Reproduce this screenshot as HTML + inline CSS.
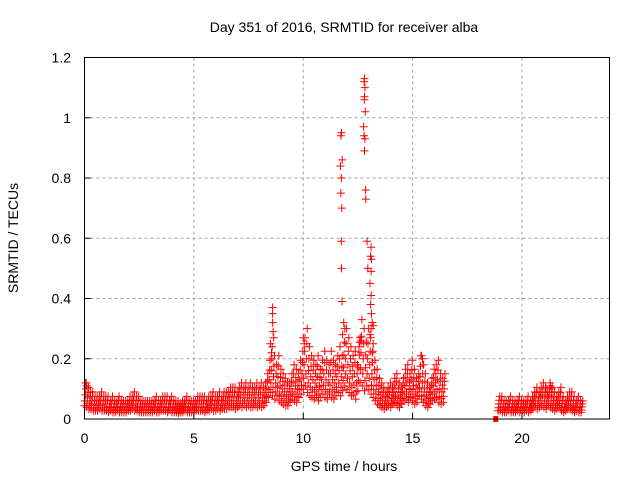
<!DOCTYPE html>
<html><head><meta charset="utf-8"><style>
body{margin:0;background:#fff}
svg{display:block;font-family:"Liberation Sans",sans-serif}
</style></head><body>
<svg id="chart" width="640" height="480">
<rect width="640" height="480" fill="#fff"/>
<text x="344" y="32" font-size="14" text-anchor="middle">Day 351 of 2016, SRMTID for receiver alba</text>
<text x="344" y="471" font-size="14" text-anchor="middle">GPS time / hours</text>
<text x="18" y="238" font-size="14" text-anchor="middle" transform="rotate(-90 18 238)">SRMTID / TECUs</text>
<g id="grid"></g>
<g id="marks"></g>
<rect x="84.5" y="57.5" width="525" height="361.5" fill="none" stroke="#000" stroke-width="1"/>
<g id="ticks"></g>
</svg>
<script>
const xTicks=[0,5,10,15,20];
const yTicks=[0,0.2,0.4,0.6,0.8,1,1.2];
const yTickLabels=["0","0.2","0.4","0.6","0.8","1","1.2"];
const seg1Start=0.0;
const seg1=[0.08,0.07,0.06,0.06,0.05,0.05,0.05,0.06,0.05,0.05,
0.05,0.04,0.05,0.04,0.04,0.05,0.04,0.04,0.04,0.04,
0.05,0.05,0.06,0.05,0.05,0.04,0.04,0.04,0.04,0.04,
0.04,0.04,0.05,0.04,0.04,0.05,0.05,0.05,0.04,0.05,
0.04,0.04,0.04,0.035,0.04,0.04,0.05,0.04,0.04,0.04,
0.04,0.05,0.05,0.05,0.05,0.04,0.05,0.05,0.06,0.05,
0.05,0.06,0.05,0.06,0.06,0.06,0.07,0.07,0.07,0.06,
0.07,0.08,0.07,0.08,0.07,0.08,0.07,0.07,0.08,0.07,
0.08,0.07,0.08,0.10,0.13,0.16,0.14,0.12,0.14,0.11,
0.10,0.09,0.08,0.08,0.10,0.12,0.11,0.10,0.13,0.15,
0.18,0.20,0.16,0.14,0.13,0.12,0.14,0.11,0.13,0.15,
0.13,0.12,0.15,0.13,0.12,0.14,0.16,0.14,0.17,0.20,
0.18,0.16,0.14,0.15,0.12,0.17,0.22,0.20,0.17,0.20,
0.18,0.15,0.13,0.11,0.09,0.08,0.07,0.06,0.07,0.08,
0.07,0.09,0.10,0.08,0.07,0.09,0.11,0.12,0.10,0.13,
0.11,0.09,0.10,0.14,0.12,0.10,0.08,0.07,0.09,0.11,
0.12,0.13,0.10,0.09,0.10];
const seg2Start=18.9;
const seg2=[0.05,0.05,0.04,0.04,0.04,0.05,0.04,0.04,0.04,0.05,
0.04,0.04,0.04,0.05,0.04,0.05,0.06,0.07,0.06,0.07,
0.08,0.07,0.06,0.08,0.07,0.06,0.05,0.06,0.07,0.05,
0.04,0.05,0.06,0.06,0.05,0.04,0.05,0.04,0.04];
const timeStep=0.1;
const spreadFactors=[-0.45,-0.25,0,0.25,0.5];
const outTimes=[0.05,0.1,8.6,8.6,8.6,8.62,8.65,8.5,8.55,10.0,10.05,
11.75,11.72,11.78,11.7,11.74,11.72,11.76,11.74,11.75,11.77,11.85,11.9,11.8,
12.8,12.78,12.82,12.8,12.79,12.83,12.76,12.78,12.82,12.8,12.85,12.86,12.92,12.95,
13.1,13.08,13.12,13.1,13.05,13.1,13.08,13.12,13.15,13.1,13.05,13.2,13.15,13.2,
12.6,12.65,12.55,15.4,15.45,15.5,21.3,21.35,21.1];
const outVals=[0.12,0.11,0.37,0.35,0.32,0.29,0.27,0.25,0.22,0.27,0.25,
0.95,0.94,0.86,0.84,0.80,0.75,0.70,0.59,0.50,0.39,0.32,0.30,0.28,
1.13,1.12,1.10,1.07,1.06,1.02,0.97,0.94,0.93,0.89,0.76,0.73,0.59,0.50,
0.57,0.54,0.53,0.49,0.45,0.41,0.38,0.35,0.32,0.30,0.28,0.25,0.22,0.31,
0.27,0.26,0.24,0.21,0.20,0.18,0.11,0.10,0.10];
const NS="http://www.w3.org/2000/svg";
const X0=84.5,X1=609.5,Y0=419,Y1=57.5,XMAX=24,YMAX=1.2;
function xs(t){return X0+(t/XMAX)*(X1-X0);}
function ys(v){return Y0-(v/YMAX)*(Y0-Y1);}
const grid=document.getElementById('grid'),ticks=document.getElementById('ticks'),marks=document.getElementById('marks');
function mk(tag,attrs,parent){const e=document.createElementNS(NS,tag);for(const k in attrs)e.setAttribute(k,attrs[k]);parent.appendChild(e);return e;}
xTicks.forEach(t=>{
 const x=xs(t);
 if(t>0){const g=mk('line',{x1:x,x2:x,y1:Y1,y2:Y0,stroke:'#a0a0a0','stroke-dasharray':'3,3'},grid);
 
 }
 const tk=mk('line',{x1:x,x2:x,y1:Y0,y2:Y0-6,stroke:'#000'},ticks);
 
 
 const l=mk('text',{x:x,y:443,'font-size':14,'text-anchor':'middle'},ticks);l.textContent=String(t);
 
 
});
yTicks.forEach((v,i)=>{
 const y=ys(v);
 if(v>0&&v<1.2){const g=mk('line',{x1:X0,x2:X1,y1:y,y2:y,stroke:'#a0a0a0','stroke-dasharray':'3,3'},grid);
 
 }
 const tk=mk('line',{x1:X0,x2:X0+6,y1:y,y2:y,stroke:'#000'},ticks);
 
 
 const l=mk('text',{x:71,y:y+5,'font-size':14,'text-anchor':'end'},ticks);l.textContent=yTickLabels[i];
 
 
});
let d='';
function plus(t,v){const x=xs(t),y=ys(v);d+=`M${(x-4).toFixed(1)} ${y.toFixed(1)}h8M${x.toFixed(1)} ${(y-4).toFixed(1)}v8`;}
function drawSeg(start,arr){arr.forEach((v,i)=>{const t=start+i*timeStep;spreadFactors.forEach((f,j)=>{plus(t+j*0.02,Math.max(0.012,v+f*v));});});}
drawSeg(seg1Start,seg1);drawSeg(seg2Start,seg2);
outTimes.forEach((t,i)=>plus(t,outVals[i]));
const p=mk('path',{d:d,stroke:'#f00','stroke-width':1,fill:'none'},marks);


const sq=mk('rect',{x:xs(18.8)-2.5,y:ys(0)-3,width:5,height:6,fill:'#f00'},marks);


</script>
</body></html>
